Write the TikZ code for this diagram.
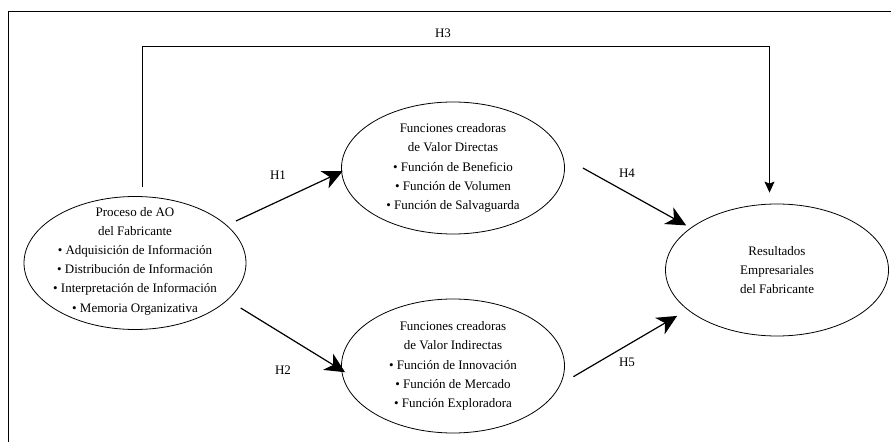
\documentclass[tikz,border=0pt]{standalone}
\usepackage{fontspec}
\setmainfont{Liberation Serif}
\usetikzlibrary{arrows.meta,calc,shapes.geometric}
\begin{document}
\begin{tikzpicture}[x=1pt,y=1pt,
  ell/.style={draw, ellipse, line width=0.8pt, minimum width=223pt, minimum height=133pt, inner sep=0pt},
  txt/.style={align=center, font=\fontsize{13}{19.2}\selectfont, inner sep=0pt},
  big/.style={line width=1.2pt, -{Stealth[length=20pt,width=19pt,inset=6pt]}},
  small/.style={line width=1pt, -{Stealth[length=11pt,width=10pt,inset=2pt]}},
  lab/.style={font=\fontsize{13}{15}\selectfont, inner sep=0pt}]
\useasboundingbox (0,0) rectangle (891,442);
\draw[line width=1.4pt] (8.5,0) -- (8.5,430.5) -- (891,430.5);

\node[ell, minimum width=222pt] (ao) at (135,179) {};
\node[txt] (aot) at ([yshift=2pt]ao.center) {Proceso de AO\\del Fabricante\\• Adquisición de Información\\• Distribución de Información\\• Interpretación de Información\\• Memoria Organizativa};

\node[ell, minimum height=132pt] (dv) at (453,274) {};
\node[txt] (dvt) at (dv.center) {Funciones creadoras\\de Valor Directas\\• Función de Beneficio\\• Función de Volumen\\• Función de Salvaguarda};

\node[ell, minimum height=134pt] (di) at (453,76) {};
\node[txt] (dit) at (di.center) {Funciones creadoras\\de Valor Indirectas\\• Función de Innovación\\• Función de Mercado\\• Función Exploradora};

\node[ell, minimum height=132pt] (res) at (777,172) {};
\node[txt] (rest) at (res.center) {Resultados\\Empresariales\\del Fabricante};

\coordinate (h1s) at ([shift={(101,42)}]ao.center);
\coordinate (h2s) at ([shift={(105.7,-45)}]ao.center);
\coordinate (h4s) at ([xshift=18pt]dv.east);
\coordinate (h5s) at ([shift={(8.5,-10.7)}]di.east);
\coordinate (h3s) at ([xshift=7.5pt,yshift=9pt]ao.north);
\coordinate (h3e) at ([xshift=-7.5pt,yshift=11pt]res.north);

\draw[big, shorten >=-1.5pt] (h1s) -- (dv.182);
\draw[big, shorten >=-4.5pt] (h2s) -- (di.182);
\draw[big, shorten >=5pt] (h4s) -- (res.154);
\draw[big, shorten >=12pt] (h5s) -- (res.204);
\draw[small] (h3s) -- ++(0,140.5) -| (h3e);

\node[lab] (l1) at (278,267) {H1};
\node[lab] (l2) at (283,72) {H2};
\node[lab] (l3) at (443,409) {H3};
\node[lab] (l4) at (627,269) {H4};
\node[lab] (l5) at (627,80) {H5};
\end{tikzpicture}
\end{document}
